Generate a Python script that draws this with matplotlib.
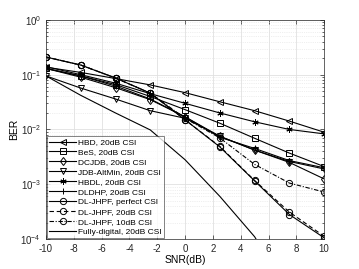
import numpy as np
import matplotlib
matplotlib.use('Agg')
import matplotlib.pyplot as plt

plt.rcParams['font.family'] = ['Liberation Sans', 'DejaVu Sans']
plt.rcParams['axes.unicode_minus'] = False
plt.rcParams['mathtext.fontset'] = 'custom'
plt.rcParams['mathtext.rm'] = 'Liberation Sans'
plt.rcParams['mathtext.it'] = 'Liberation Sans'
plt.rcParams['mathtext.default'] = 'regular'

snr = [-10, -7.5, -5, -2.5, 0, 2.5, 5, 7.5, 10]

hbd = [0.137, 0.11, 0.085, 0.065, 0.047, 0.032, 0.022, 0.0142, 0.0089]
bes = [0.13, 0.095, 0.066, 0.040, 0.023, 0.013, 0.0069, 0.0037, 0.0021]
dcjdb = [0.13, 0.09, 0.058, 0.035, 0.017, 0.0075, 0.0042, 0.0025, 0.00125]
jdb = [0.095, 0.057, 0.036, 0.022, 0.016, 0.0075, 0.0042, 0.0026, 0.0019]
hbdl = [0.14, 0.10, 0.07, 0.045, 0.030, 0.020, 0.0138, 0.010, 0.0083]
dldhp = [0.13, 0.095, 0.062, 0.036, 0.017, 0.0072, 0.0045, 0.0027, 0.0020]
jhpf_perfect = [0.21, 0.15, 0.087, 0.046, 0.015, 0.0048, 0.00115, 0.00028, 0.000105]
jhpf_20 = [0.21, 0.15, 0.087, 0.046, 0.015, 0.0049, 0.00117, 0.00031, 0.000112]
jhpf_10 = [0.21, 0.15, 0.087, 0.046, 0.016, 0.007, 0.0023, 0.00105, 0.00072]
fully = [0.095, 0.042, 0.020, 0.0098, 0.0028, 0.0006, 0.00011, 0.00001, 0.000001]

fig = plt.figure(figsize=(3.59, 2.69), dpi=100)
ax = fig.add_axes([0.128, 0.1115, 0.775, 0.8145])

kw = dict(color='black', lw=0.8, mfc='none', mew=0.7, ms=4.5)
ax.semilogy(snr, hbd, marker='<', label='HBD, 20dB CSI', **kw)
ax.semilogy(snr, bes, marker='s', label='BeS, 20dB CSI', **kw)
ax.semilogy(snr, dcjdb, marker='d', label='DCJDB, 20dB CSI', **kw)
ax.semilogy(snr, jdb, marker='v', label='JDB-AltMin, 20dB CSI', **kw)
ax.semilogy(snr, hbdl, marker=(6, 2, 0), label='HBDL, 20dB CSI', **kw)
ax.semilogy(snr, dldhp, marker='+', label='DLDHP, 20dB CSI', **kw)
ax.semilogy(snr, jhpf_perfect, marker='o', label='DL-JHPF, perfect CSI', **kw)
ax.semilogy(snr, jhpf_20, marker='o', linestyle=(0, (4, 2.5)), label='DL-JHPF, 20dB CSI', **kw)
ax.semilogy(snr, jhpf_10, marker='o', linestyle=(0, (4, 1.5, 1, 1.5)), label='DL-JHPF, 10dB CSI', **kw)
ax.semilogy(snr, fully, color='black', lw=0.8, label='Fully-digital, 20dB CSI')

ax.set_xlim(-10, 10)
ax.set_ylim(1e-4, 1)
ax.set_xticks(np.arange(-10, 11, 2))
ax.grid(True, which='major', color='#e0e0e0', lw=0.6)
ax.grid(True, which='minor', color='#e0e0e0', lw=0.5, linestyle=':')
ax.set_axisbelow(True)
ax.tick_params(which='both', direction='in', top=True, right=True, labelsize=7, colors='#262626', width=0.5)
ax.tick_params(which='major', length=3)
ax.tick_params(which='minor', length=1.5)
for s in ax.spines.values():
    s.set_color('#262626')
    s.set_linewidth(0.5)

ax.set_xlabel('SNR(dB)', fontsize=7.5, labelpad=1)
ax.set_ylabel('BER', fontsize=7.5, labelpad=1)

leg = ax.legend(loc='lower left', fontsize=6, frameon=True, fancybox=False, edgecolor='#262626',
                borderaxespad=0.1, handlelength=3.2, labelspacing=0.25, handletextpad=0.3,
                borderpad=0.3)
leg.get_frame().set_linewidth(0.5)

fig.savefig('out.png', dpi=100)
